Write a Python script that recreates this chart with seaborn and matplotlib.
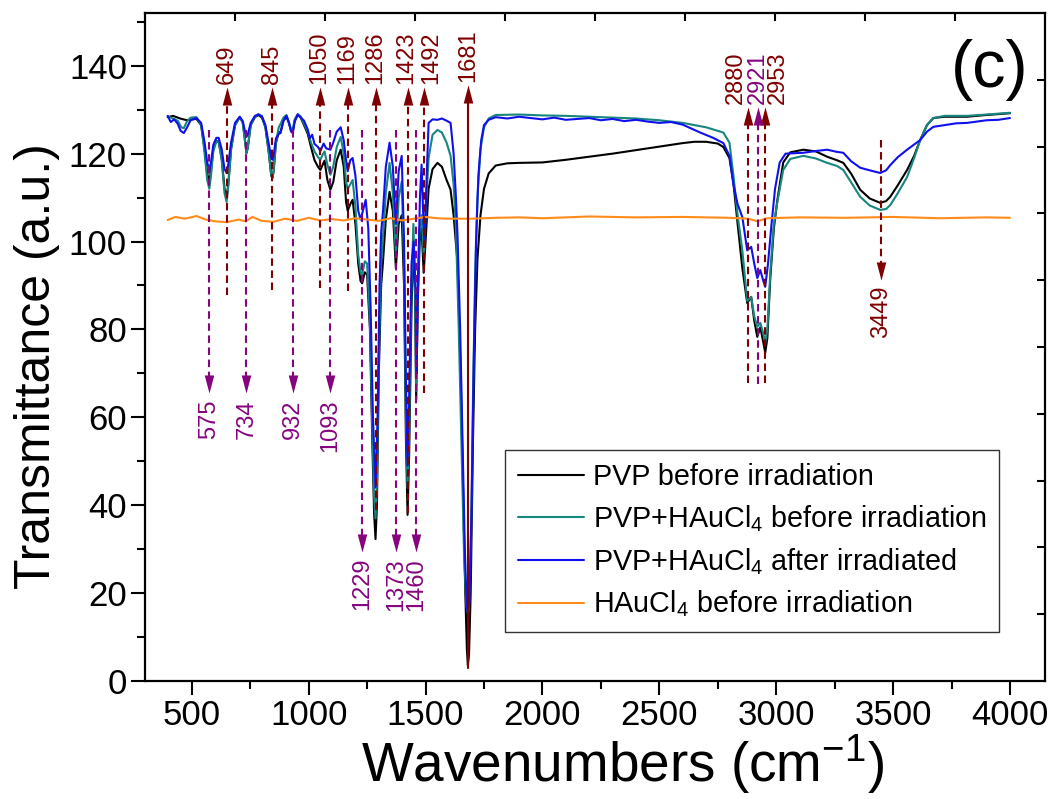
import numpy as np
import pandas as pd
import matplotlib
matplotlib.use("Agg")
import matplotlib.pyplot as plt
from matplotlib.lines import Line2D
from matplotlib.path import Path
import seaborn as sns

# ---------------- FTIR spectra: (wavenumber cm^-1, transmittance a.u.) ----------------
pvp_before = [
    (397, 128.3), (420, 128.6), (450, 128.0), (480, 127.6), (500, 127.8), (520, 127.9), (540, 126.5),
    (555, 121.0), (566, 115.5), (575, 113.5), (582, 116.0), (592, 121.0), (605, 123.0), (615, 122.6),
    (628, 119.0), (640, 112.0), (649, 110.0), (656, 113.0), (668, 121.0), (685, 126.5), (705, 128.3),
    (718, 127.2), (728, 123.0), (734, 120.2), (740, 121.5), (752, 126.5), (770, 128.3), (785, 128.8),
    (800, 128.2), (815, 126.0), (830, 120.0), (840, 115.0), (845, 114.5), (850, 116.0), (860, 122.5),
    (872, 124.8), (880, 125.0), (892, 127.5), (905, 128.4), (915, 127.0), (925, 125.2), (932, 125.0),
    (940, 127.5), (953, 128.8), (965, 128.3), (980, 126.5), (996, 124.5), (1010, 121.5), (1025, 118.5),
    (1040, 117.0), (1050, 116.3), (1060, 117.5), (1068, 118.4), (1080, 114.0), (1093, 111.8),
    (1105, 113.5), (1120, 118.5), (1137, 120.9), (1150, 117.0), (1160, 109.0), (1167, 107.0),
    (1178, 108.5), (1188, 109.5), (1200, 104.0), (1212, 95.0), (1222, 91.0), (1229, 90.5), (1240, 93.0),
    (1250, 92.5), (1262, 80.0), (1272, 55.0), (1280, 38.0), (1286, 32.3), (1292, 40.0), (1300, 70.0),
    (1310, 90.0), (1318, 95.5), (1330, 105.0), (1346, 111.3), (1360, 107.0), (1373, 94.0), (1385, 104.0),
    (1398, 106.0), (1408, 90.0), (1416, 55.0), (1423, 37.8), (1430, 52.0), (1440, 85.0), (1448, 100.0),
    (1455, 88.0), (1460, 64.0), (1466, 85.0), (1475, 100.0), (1483, 103.0), (1492, 92.9), (1500, 100.0),
    (1513, 112.0), (1530, 116.5), (1551, 117.9), (1570, 117.0), (1590, 114.0), (1607, 111.8),
    (1620, 106.0), (1637, 95.0), (1650, 70.0), (1660, 45.0), (1670, 20.0), (1677, 7.0), (1681, 3.6),
    (1686, 6.0), (1693, 20.0), (1703, 55.0), (1712, 80.0), (1722, 96.0), (1735, 106.0), (1750, 112.0),
    (1770, 115.5), (1800, 117.3), (1850, 117.8), (1900, 117.9), (2000, 118.0), (2100, 118.6),
    (2200, 119.3), (2300, 120.0), (2400, 120.8), (2500, 121.6), (2600, 122.4), (2650, 122.7),
    (2700, 122.7), (2750, 122.3), (2774, 121.5), (2800, 119.0), (2817, 113.3), (2835, 104.0),
    (2855, 94.0), (2876, 86.0), (2893, 87.4), (2906, 82.0), (2919, 78.3), (2932, 80.5), (2945, 77.0),
    (2953, 74.7), (2962, 78.0), (2975, 92.0), (2990, 103.0), (3005, 109.5), (3030, 118.0), (3060, 120.3),
    (3116, 120.9), (3170, 120.5), (3218, 119.3), (3260, 118.5), (3287, 117.9), (3320, 115.5),
    (3359, 111.8), (3400, 109.8), (3445, 108.8), (3470, 109.2), (3488, 110.2), (3520, 112.8),
    (3560, 116.3), (3590, 119.5), (3616, 123.1), (3645, 126.5), (3672, 128.1), (3720, 128.4),
    (3817, 128.4), (3900, 128.8), (4000, 129.2),
]

pvp_haucl4_before = [
    (397, 128.5), (420, 128.0), (440, 127.5), (455, 126.0), (466, 125.8), (478, 127.2), (495, 128.2),
    (520, 128.3), (540, 126.5), (555, 120.0), (566, 114.0), (575, 112.0), (582, 115.0), (592, 120.5),
    (605, 122.8), (615, 122.8), (628, 118.5), (640, 111.0), (649, 109.0), (656, 112.5), (668, 121.0),
    (685, 126.5), (705, 128.3), (718, 127.0), (728, 122.5), (734, 120.0), (740, 121.5), (752, 126.5),
    (770, 128.4), (785, 129.0), (800, 128.5), (815, 126.0), (830, 120.0), (840, 115.0), (845, 114.5),
    (850, 116.0), (860, 122.5), (872, 126.0), (880, 126.8), (892, 128.2), (905, 128.8), (915, 127.2),
    (925, 125.5), (932, 125.3), (940, 127.8), (953, 129.0), (965, 128.5), (980, 126.8), (996, 125.0),
    (1010, 122.5), (1025, 120.5), (1040, 119.2), (1050, 118.6), (1060, 119.8), (1068, 120.5),
    (1080, 117.5), (1093, 115.2), (1105, 117.0), (1120, 121.5), (1137, 123.8), (1150, 120.0),
    (1160, 113.5), (1167, 112.0), (1178, 113.0), (1188, 114.0), (1200, 108.0), (1212, 97.0),
    (1222, 93.0), (1229, 92.5), (1240, 95.5), (1250, 95.0), (1262, 82.0), (1272, 58.0), (1280, 42.0),
    (1286, 37.0), (1292, 45.0), (1300, 74.0), (1310, 95.0), (1318, 101.0), (1330, 111.0), (1346, 117.9),
    (1360, 111.0), (1373, 97.0), (1385, 110.0), (1398, 113.6), (1408, 95.0), (1416, 60.0), (1423, 44.0),
    (1430, 58.0), (1440, 90.0), (1448, 104.0), (1455, 90.0), (1460, 66.0), (1466, 88.0), (1475, 103.0),
    (1483, 106.0), (1492, 97.0), (1500, 106.0), (1513, 119.0), (1530, 124.3), (1551, 125.4),
    (1570, 124.8), (1590, 122.5), (1607, 119.5), (1620, 113.0), (1630, 103.0), (1642, 80.0),
    (1655, 50.0), (1665, 28.0), (1675, 17.0), (1681, 15.5), (1686, 17.0), (1695, 35.0), (1703, 65.0),
    (1712, 92.0), (1722, 110.0), (1735, 121.0), (1750, 126.0), (1770, 128.0), (1800, 128.8),
    (1900, 128.9), (2000, 128.7), (2100, 128.6), (2200, 128.4), (2300, 128.2), (2400, 128.0),
    (2500, 127.6), (2600, 127.0), (2700, 126.0), (2774, 124.8), (2800, 122.5), (2817, 115.0),
    (2835, 106.0), (2855, 98.0), (2876, 86.5), (2893, 87.4), (2906, 83.0), (2919, 80.6), (2932, 81.5),
    (2945, 79.0), (2953, 76.9), (2962, 80.0), (2975, 93.0), (2990, 104.0), (3005, 109.0), (3030, 116.3),
    (3060, 118.8), (3116, 119.5), (3170, 118.9), (3218, 117.9), (3260, 117.2), (3287, 116.3),
    (3320, 113.5), (3359, 110.2), (3400, 108.2), (3445, 107.2), (3470, 107.4), (3488, 108.3),
    (3520, 111.0), (3560, 114.7), (3590, 119.0), (3616, 123.1), (3645, 126.5), (3672, 128.1),
    (3720, 128.6), (3817, 128.6), (3900, 128.9), (4000, 129.3),
]

pvp_haucl4_after = [
    (397, 128.6), (410, 127.2), (425, 127.8), (440, 126.8), (452, 125.2), (466, 124.7), (478, 125.8),
    (495, 127.6), (520, 128.1), (540, 127.0), (555, 122.5), (566, 118.0), (575, 116.3), (582, 118.0),
    (592, 122.0), (605, 123.6), (615, 123.6), (628, 121.0), (640, 116.5), (649, 115.6), (656, 117.5),
    (668, 122.5), (685, 127.0), (705, 128.4), (718, 127.4), (728, 125.0), (734, 123.8), (740, 124.5),
    (752, 127.0), (770, 128.6), (785, 128.9), (800, 128.5), (815, 126.5), (830, 122.0), (840, 119.0),
    (845, 118.6), (850, 119.5), (860, 123.5), (872, 124.5), (880, 124.7), (892, 127.5), (905, 128.6),
    (915, 127.2), (925, 125.0), (932, 124.7), (940, 127.2), (953, 128.9), (965, 128.3), (980, 127.5),
    (996, 125.5), (1005, 123.5), (1015, 124.3), (1025, 122.2), (1040, 121.5), (1050, 120.6),
    (1064, 122.3), (1075, 121.2), (1093, 120.9), (1105, 122.5), (1120, 125.0), (1137, 126.0),
    (1150, 123.0), (1160, 118.5), (1167, 116.0), (1178, 118.5), (1188, 119.0), (1200, 115.0),
    (1212, 107.0), (1222, 105.0), (1232, 107.0), (1244, 109.5), (1255, 103.0), (1265, 85.0),
    (1275, 60.0), (1286, 44.0), (1295, 60.0), (1303, 90.0), (1310, 102.0), (1318, 107.0), (1330, 117.0),
    (1346, 122.5), (1360, 117.0), (1373, 104.0), (1385, 116.0), (1398, 119.5), (1408, 100.0),
    (1416, 68.0), (1423, 49.0), (1430, 65.0), (1440, 95.0), (1449, 100.0), (1458, 88.0), (1462, 70.0),
    (1468, 92.0), (1476, 110.0), (1483, 117.5), (1490, 106.0), (1496, 98.8), (1503, 112.0),
    (1513, 127.0), (1530, 127.8), (1551, 127.7), (1570, 128.0), (1590, 127.5), (1607, 127.0),
    (1620, 120.0), (1630, 110.0), (1637, 101.0), (1648, 80.0), (1658, 55.0), (1668, 30.0), (1676, 17.0),
    (1681, 15.5), (1688, 18.0), (1697, 40.0), (1706, 72.0), (1716, 100.0), (1726, 115.0), (1738, 123.0),
    (1750, 126.5), (1770, 127.7), (1800, 128.3), (1850, 128.0), (1900, 128.4), (1950, 128.1),
    (2000, 127.8), (2050, 128.2), (2100, 127.7), (2150, 127.9), (2200, 128.1), (2250, 127.6),
    (2300, 127.9), (2350, 127.4), (2400, 127.7), (2450, 127.3), (2500, 127.0), (2550, 127.2),
    (2600, 126.6), (2675, 124.8), (2730, 123.6), (2774, 122.4), (2800, 119.5), (2817, 113.0),
    (2835, 108.5), (2855, 105.6), (2876, 98.0), (2893, 98.8), (2906, 95.0), (2919, 91.7), (2932, 93.5),
    (2945, 91.0), (2953, 89.7), (2965, 95.0), (2980, 104.0), (2995, 112.0), (3015, 118.0), (3040, 120.0),
    (3116, 120.2), (3170, 120.6), (3218, 120.9), (3260, 120.4), (3287, 120.2), (3320, 118.3),
    (3359, 116.8), (3400, 116.2), (3445, 115.6), (3470, 116.2), (3488, 117.4), (3520, 119.2),
    (3560, 120.9), (3616, 123.1), (3645, 125.0), (3672, 126.1), (3720, 126.5), (3770, 126.9),
    (3817, 127.0), (3860, 127.3), (3900, 127.6), (3950, 127.7), (4000, 128.1),
]

haucl4_before = [
    (397, 104.9), (430, 105.6), (470, 105.2), (520, 105.8), (560, 105.0), (600, 104.6), (650, 104.4),
    (700, 105.0), (730, 104.6), (760, 105.6), (800, 104.7), (850, 104.5), (900, 105.2), (950, 104.7),
    (1000, 105.4), (1050, 104.8), (1100, 105.1), (1150, 104.8), (1200, 105.3), (1250, 105.0),
    (1300, 104.7), (1350, 105.3), (1400, 104.8), (1450, 105.2), (1500, 105.6), (1550, 105.3),
    (1600, 105.2), (1700, 105.2), (1800, 105.4), (1900, 105.5), (2000, 105.3), (2200, 105.7),
    (2400, 105.5), (2600, 105.6), (2800, 105.4), (2880, 105.2), (2920, 104.6), (2960, 105.3),
    (3100, 105.5), (3300, 105.4), (3500, 105.6), (3700, 105.3), (3900, 105.5), (4000, 105.4),
]

sample_names = ["PVP before irradiation",
                r"PVP+HAuCl$_4$ before irradiation",
                r"PVP+HAuCl$_4$ after irradiated",
                r"HAuCl$_4$ before irradiation"]
sample_colors = ["#000000", "#16867e", "#1010ee", "#ff8c1a"]

# ---------------- band assignments ----------------
# (wavenumber, line start, arrow tip, label x)
up_bands_red = [(649, 87.9, 135.2, 649), (845, 89.0, 135.2, 845), (1050, 89.4, 135.2, 1045),
                (1169, 88.8, 135.2, 1165), (1286, 38.9, 135.2, 1286), (1423, 38.2, 135.2, 1419),
                (1492, 65.5, 135.2, 1526), (2880, 67.8, 130.6, 2829), (2953, 67.8, 130.6, 3008)]
up_bands_purple = [(2921, 67.5, 130.6, 2921)]
down_bands_red = [(3449, 123.1, 91.3)]
down_bands_purple = [(575, 125.4, 65.5), (734, 125.4, 65.5), (932, 125.4, 65.5), (1093, 125.4, 65.5),
                     (1229, 125.4, 29.4), (1373, 125.4, 29.4), (1460, 125.4, 29.4)]
main_band = (1681, 3.0, 135.6)

RED = "#7f0000"
PURPLE = "#86057f"

# ---------------- style ----------------
sns.set_theme(style="white")
plt.rcParams["font.family"] = ["Liberation Sans", "DejaVu Sans"]
plt.rcParams["mathtext.fontset"] = "custom"
plt.rcParams["mathtext.rm"] = "Liberation Sans"
plt.rcParams["mathtext.it"] = "Liberation Sans:italic"
plt.rcParams["mathtext.bf"] = "Liberation Sans:bold"
for key in ["text.color", "axes.labelcolor", "xtick.color", "ytick.color", "axes.edgecolor"]:
    plt.rcParams[key] = "black"

fig = plt.figure(figsize=(10.54, 7.99), dpi=100)
ax = fig.add_axes([0.1376, 0.1477, 0.8539, 0.836])

frames = []
for name, pts in zip(sample_names, [pvp_before, pvp_haucl4_before, pvp_haucl4_after, haucl4_before]):
    w, t = zip(*pts)
    frames.append(pd.DataFrame({"wavenumber": w, "transmittance": t, "sample": name}))
df = pd.concat(frames, ignore_index=True)

sns.lineplot(data=df, x="wavenumber", y="transmittance", hue="sample", hue_order=sample_names,
             palette=dict(zip(sample_names, sample_colors)), estimator=None, sort=False,
             linewidth=1.5, legend=False, ax=ax)

# ---------------- arrows ----------------
head = Path([(0, 1), (-0.53, -1), (0.53, -1), (0, 1)],
            [Path.MOVETO, Path.LINETO, Path.LINETO, Path.CLOSEPOLY])
head_down = Path([(0, -1), (-0.53, 1), (0.53, 1), (0, -1)],
                 [Path.MOVETO, Path.LINETO, Path.LINETO, Path.CLOSEPOLY])
HEAD_MS = 13
HEAD_HALF = 2.05
DASH = (0, (3.6, 2.2))
LABEL_FS = 17


def up_arrow(x, y0, y1, color, lx, ls=DASH):
    ax.plot([x, x], [y0, y1 - HEAD_HALF], color=color, lw=1.5, linestyle=ls, zorder=5)
    ax.plot([x], [y1 - HEAD_HALF], marker=head, ms=HEAD_MS, color=color, mew=0, zorder=6)
    ax.text(lx, y1 + 0.7, str(x), rotation=90, ha="center", va="bottom",
            color=color, fontsize=LABEL_FS, zorder=6)


def down_arrow(x, y0, y1, color):
    ax.plot([x, x], [y0, y1 + HEAD_HALF], color=color, lw=1.5, linestyle=DASH, zorder=5)
    ax.plot([x], [y1 + HEAD_HALF], marker=head_down, ms=HEAD_MS, color=color, mew=0, zorder=6)
    ax.text(x, y1 - 1.4, str(x), rotation=90, ha="center", va="top",
            color=color, fontsize=LABEL_FS, zorder=6)


for x, y0, y1, lx in up_bands_red:
    up_arrow(x, y0, y1, RED, lx)
for x, y0, y1, lx in up_bands_purple:
    up_arrow(x, y0, y1, PURPLE, lx)
for x, y0, y1 in down_bands_red:
    down_arrow(x, y0, y1, RED)
for x, y0, y1 in down_bands_purple:
    down_arrow(x, y0, y1, PURPLE)
up_arrow(main_band[0], main_band[1], main_band[2], RED, main_band[0], ls="-")

# ---------------- axes ----------------
ax.set_xlim(300, 4150)
ax.set_ylim(0, 152)
ax.xaxis.set_major_locator(matplotlib.ticker.MultipleLocator(500))
ax.xaxis.set_minor_locator(matplotlib.ticker.MultipleLocator(250))
ax.yaxis.set_major_locator(matplotlib.ticker.MultipleLocator(20))
ax.yaxis.set_minor_locator(matplotlib.ticker.MultipleLocator(10))
ax.tick_params(axis="both", which="major", direction="out", length=10, width=1.5,
               labelsize=25, color="black", labelcolor="black", pad=3, bottom=True, left=True)
ax.tick_params(axis="both", which="minor", direction="out", length=5.8, width=1.5,
               color="black", bottom=True, left=True)
for sp in ax.spines.values():
    sp.set_color("black")
    sp.set_linewidth(1.6)

top = ax.secondary_xaxis("top")
top.set_xticks(np.linspace(300, 4150, 11)[1:-1])
top.tick_params(direction="in", length=6, width=1.5, labeltop=False, color="black")
top.spines["top"].set_visible(False)
right = ax.secondary_yaxis("right")
right.set_yticks(np.linspace(0, 152, 11)[1:-1])
right.tick_params(direction="in", length=6, width=1.5, labelright=False, color="black")
right.spines["right"].set_visible(False)

ax.set_xlabel(r"Wavenumbers (cm$^{-1}$)", fontsize=39.5)
ax.xaxis.set_label_coords(0.531, -0.077, transform=ax.transAxes)
ax.xaxis.label.set_verticalalignment("top")
ax.set_ylabel("Transmittance (a.u.)", fontsize=36)
ax.yaxis.set_label_coords(-0.094, 0.472, transform=ax.transAxes)
ax.text(0.939, 0.915, "(c)", transform=ax.transAxes, fontsize=48, ha="center", va="center")

handles = [Line2D([], [], color=c, lw=1.5) for c in sample_colors]
leg = ax.legend(handles, sample_names, loc="upper left", bbox_to_anchor=(0.4, 0.346),
                fontsize=20.7, frameon=True, fancybox=False, framealpha=1, edgecolor="#333333",
                handlelength=2.3, handletextpad=0.3, labelspacing=0.42, borderpad=0.45,
                borderaxespad=0)
leg.get_frame().set_linewidth(1.0)

fig.savefig("out.png", dpi=100)
